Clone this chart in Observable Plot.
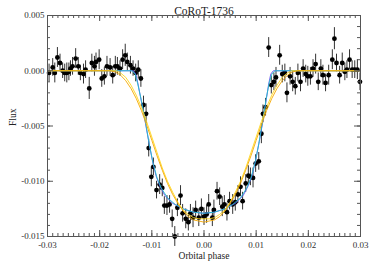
<!DOCTYPE html>
<html>
<head>
<meta charset="utf-8">
<script src="https://cdn.jsdelivr.net/npm/d3@7"></script>
<script src="https://cdn.jsdelivr.net/npm/@observablehq/plot@0.6"></script>
<style>
  html, body { margin: 0; padding: 0; background: #fff; }
</style>
</head>
<body>
<div id="chart"></div>
<script>
const title = "CoRoT-1736";
const xLabel = "Orbital phase";
const yLabel = "Flux";

const xMajorTicks = [-0.03, -0.02, -0.01, 0.00, 0.01, 0.02, 0.03];
const yMajorTicks = [-0.015, -0.010, -0.005, 0.000, 0.005];

const phase = [
  -0.0297, -0.0290, -0.0286, -0.0281, -0.0276, -0.0271, -0.0267, -0.0263, -0.0259, -0.0256,
  -0.0252, -0.0246, -0.0241, -0.0237, -0.0231, -0.0227, -0.0220, -0.0215, -0.0210, -0.0207,
  -0.0201, -0.0196, -0.0191, -0.0186, -0.0180, -0.0175, -0.0170, -0.0166, -0.0161, -0.0156,
  -0.0151, -0.0147, -0.0141, -0.0136, -0.0131, -0.0126, -0.0121, -0.0116, -0.0111, -0.0106,
  -0.0101, -0.0097, -0.0091, -0.0085, -0.0080, -0.0076, -0.0071, -0.0066, -0.0061, -0.0056,
  -0.0051, -0.0045, -0.0041, -0.0035, -0.0030, -0.0026, -0.0021, -0.0016, -0.0010, -0.0005,
   0.0000,  0.0005,  0.0009,  0.0016,  0.0019,  0.0025,  0.0030,  0.0035,  0.0039,  0.0044,
   0.0049,  0.0055,  0.0060,  0.0065,  0.0070,  0.0074,  0.0080,  0.0085,  0.0089,  0.0094,
   0.0099,  0.0105,  0.0110,  0.0113,  0.0118,  0.0124,  0.0129,  0.0134,  0.0138,  0.0145,
   0.0150,  0.0155,  0.0159,  0.0165,  0.0170,  0.0175,  0.0180,  0.0185,  0.0190,  0.0195,
   0.0199,  0.0204,  0.0209,  0.0214,  0.0219,  0.0224,  0.0228,  0.0233,  0.0239,  0.0246,
   0.0250,  0.0254,  0.0260,  0.0265,  0.0270,  0.0274,  0.0279,  0.0284,  0.0289,  0.0294,
   0.0299
];
const flux = [
  -0.0002,  0.0003, -0.0002,  0.0012,  0.0007,  0.0000, -0.0002, -0.0002, -0.0001,  0.0002,
   0.0004,  0.0011,  0.0004, -0.0002, -0.0003,  0.0001, -0.0016,  0.0007,  0.0004,  0.0008,
   0.0010, -0.0007, -0.0005,  0.0004,  0.0003, -0.0004,  0.0004,  0.0004,  0.0002,  0.0010,
   0.0014,  0.0008,  0.0005,  0.0002, -0.0002,  0.0001, -0.0007, -0.0031, -0.0039, -0.0070,
  -0.0096, -0.0087, -0.0108, -0.0103, -0.0106, -0.0122, -0.0122, -0.0121, -0.0134, -0.0150,
  -0.0124, -0.0113, -0.0129, -0.0134, -0.0137, -0.0129, -0.0133, -0.0126, -0.0133, -0.0125,
  -0.0132, -0.0130, -0.0121, -0.0133, -0.0126, -0.0109, -0.0114, -0.0123, -0.0121, -0.0128,
  -0.0118, -0.0121, -0.0119, -0.0112, -0.0105, -0.0118, -0.0102, -0.0095, -0.0096, -0.0097,
  -0.0084, -0.0082, -0.0057, -0.0039, -0.0033,  0.0021, -0.0013, -0.0010, -0.0006,  0.0014,
  -0.0003, -0.0002, -0.0020, -0.0005, -0.0010, -0.0014, -0.0002, -0.0010,  0.0002, -0.0003,
  -0.0005, -0.0005,  0.0002,  0.0006, -0.0010,  0.0002, -0.0004, -0.0011, -0.0004,  0.0010,
   0.0029,  0.0007, -0.0004,  0.0007, -0.0001,  0.0001,  0.0010,  0.0001,  0.0001,  0.0001,
  -0.0010
];
const fluxErr = [
  0.0008, 0.0008, 0.0009, 0.0009, 0.0008, 0.0007, 0.0008, 0.0009, 0.0008, 0.0007,
  0.0008, 0.0009, 0.0008, 0.0007, 0.0009, 0.0008, 0.0010, 0.0008, 0.0009, 0.0008,
  0.0009, 0.0008, 0.0008, 0.0009, 0.0008, 0.0008, 0.0009, 0.0008, 0.0007, 0.0009,
  0.0010, 0.0008, 0.0008, 0.0007, 0.0008, 0.0008, 0.0008, 0.0008, 0.0009, 0.0008,
  0.0009, 0.0008, 0.0008, 0.0009, 0.0008, 0.0008, 0.0009, 0.0008, 0.0008, 0.0009,
  0.0008, 0.0009, 0.0008, 0.0009, 0.0008, 0.0008, 0.0009, 0.0008, 0.0008, 0.0009,
  0.0008, 0.0008, 0.0009, 0.0008, 0.0009, 0.0008, 0.0008, 0.0009, 0.0008, 0.0008,
  0.0008, 0.0009, 0.0008, 0.0008, 0.0009, 0.0008, 0.0008, 0.0009, 0.0008, 0.0009,
  0.0008, 0.0008, 0.0009, 0.0008, 0.0008, 0.0009, 0.0008, 0.0008, 0.0009, 0.0009,
  0.0008, 0.0008, 0.0009, 0.0008, 0.0009, 0.0008, 0.0008, 0.0009, 0.0008, 0.0008,
  0.0009, 0.0008, 0.0008, 0.0009, 0.0008, 0.0008, 0.0009, 0.0008, 0.0009, 0.0009,
  0.0010, 0.0008, 0.0008, 0.0009, 0.0008, 0.0008, 0.0009, 0.0008, 0.0008, 0.0009,
  0.0008
];

// Model curves
const blueX = [-0.03, -0.0135, -0.0130, -0.0126, -0.0120, -0.0112, -0.0106, -0.0099, -0.0092, -0.0085, -0.0075, -0.0060, -0.0040, -0.0020, 0.0000,
               0.0020, 0.0040, 0.0060, 0.0075, 0.0085, 0.0092, 0.0099, 0.0106, 0.0112, 0.0120, 0.0124, 0.0128, 0.0133, 0.03];
const blueY = [0, 0, -0.0004, -0.0013, -0.0028, -0.0048, -0.0064, -0.0081, -0.0095, -0.0104, -0.0113, -0.0120, -0.0125, -0.0128, -0.0129,
               -0.0128, -0.0125, -0.0120, -0.0113, -0.0104, -0.0095, -0.0081, -0.0064, -0.0048, -0.0024, -0.0012, -0.0003, 0, 0];

const cyanX = [-0.03, -0.0138, -0.0132, -0.0127, -0.0120, -0.0112, -0.0105, -0.0098, -0.0090, -0.0082, -0.0070, -0.0055, -0.0040, -0.0020, 0.0000,
               0.0020, 0.0040, 0.0055, 0.0070, 0.0082, 0.0090, 0.0098, 0.0105, 0.0112, 0.0119, 0.0125, 0.0130, 0.0136, 0.03];
const cyanY = [0, 0, -0.0003, -0.0012, -0.0027, -0.0047, -0.0066, -0.0083, -0.0097, -0.0106, -0.0115, -0.0121, -0.0125, -0.0128, -0.0129,
               -0.0128, -0.0125, -0.0121, -0.0115, -0.0106, -0.0097, -0.0083, -0.0066, -0.0047, -0.0026, -0.0011, -0.0003, 0, 0];

const orangeX = [-0.03, -0.0180, -0.0170, -0.0160, -0.0150, -0.0140, -0.0130, -0.0120, -0.0110, -0.0100, -0.0090, -0.0080, -0.0070, -0.0060, -0.0050, -0.0040, -0.0030, -0.0020, -0.0010, 0.0000,
                 0.0010, 0.0020, 0.0030, 0.0040, 0.0050, 0.0060, 0.0070, 0.0080, 0.0090, 0.0100, 0.0110, 0.0120, 0.0130, 0.0140, 0.0150, 0.0160, 0.0170, 0.0180, 0.03];
const orangeY = [0, 0, -0.0001, -0.0004, -0.0009, -0.0016, -0.0025, -0.0036, -0.0049, -0.0063, -0.0077, -0.0090, -0.0102, -0.0112, -0.0120, -0.0127, -0.0132, -0.0135, -0.0136, -0.0137,
                 -0.0136, -0.0135, -0.0132, -0.0127, -0.0120, -0.0112, -0.0102, -0.0090, -0.0077, -0.0063, -0.0049, -0.0036, -0.0025, -0.0016, -0.0009, -0.0004, -0.0001, 0, 0];

const yellowX = [-0.03, -0.0168, -0.0160, -0.0150, -0.0140, -0.0130, -0.0120, -0.0110, -0.0100, -0.0090, -0.0080, -0.0070, -0.0060, -0.0050, -0.0040, -0.0030, -0.0020, -0.0010, 0.0000,
                 0.0010, 0.0020, 0.0030, 0.0040, 0.0050, 0.0060, 0.0070, 0.0080, 0.0090, 0.0100, 0.0110, 0.0120, 0.0130, 0.0140, 0.0150, 0.0160, 0.0168, 0.03];
const yellowY = [0, 0, -0.0002, -0.0006, -0.0013, -0.0022, -0.0033, -0.0046, -0.0060, -0.0074, -0.0088, -0.0100, -0.0110, -0.0119, -0.0126, -0.0130, -0.0133, -0.0134, -0.0134,
                 -0.0134, -0.0133, -0.0130, -0.0126, -0.0119, -0.0110, -0.0100, -0.0088, -0.0074, -0.0060, -0.0046, -0.0033, -0.0022, -0.0013, -0.0006, -0.0002, 0, 0];

const points = phase.map((p, i) => ({x: p, y: flux[i], e: fluxErr[i]}));
const toLine = (xs, ys) => xs.map((x, i) => ({x, y: ys[i]}));

const W = 374, H = 267;
const mT = 15, mB = 31, mL = 47, mR = 14;
const frameH = H - mT - mB;
const frameW = W - mL - mR;
const axisColor = "#555";
const xMinor = d3.range(-30, 31).map(i => i / 1000);
const yMinor = d3.range(-15, 6).map(i => i / 1000);

const chart = Plot.plot({
  width: W, height: H,
  marginTop: mT, marginBottom: mB, marginLeft: mL, marginRight: mR,
  style: {fontFamily: "'Liberation Serif', serif", fontSize: "9px", color: "#333", background: "#fff"},
  x: {domain: [-0.03, 0.03]},
  y: {domain: [-0.015, 0.005]},
  marks: [
    // error bars + points
    Plot.ruleX(points, {x: "x", y1: d => d.y - d.e, y2: d => d.y + d.e, stroke: "#333", strokeWidth: 1}),
    Plot.dot(points, {x: "x", y: "y", r: 2.4, fill: "#000", stroke: "none"}),
    // model curves
    Plot.line(toLine(blueX, blueY), {x: "x", y: "y", stroke: "#6a4cf0", strokeWidth: 0.9}),
    Plot.line(toLine(cyanX, cyanY), {x: "x", y: "y", stroke: "#22bfc8", strokeWidth: 0.9}),
    Plot.line(toLine(yellowX, yellowY), {x: "x", y: "y", stroke: "#ffd81a", strokeWidth: 0.9}),
    Plot.line(toLine(orangeX, orangeY), {x: "x", y: "y", stroke: "#f6a800", strokeWidth: 0.9}),
    // inward ticks, all four sides
    Plot.tickX(xMinor, {x: d => d, insetTop: frameH - 3, stroke: axisColor}),
    Plot.tickX(xMinor, {x: d => d, insetBottom: frameH - 3, stroke: axisColor}),
    Plot.tickX(xMajorTicks, {x: d => d, insetTop: frameH - 6, stroke: axisColor}),
    Plot.tickX(xMajorTicks, {x: d => d, insetBottom: frameH - 6, stroke: axisColor}),
    Plot.tickY(yMinor, {y: d => d, insetRight: frameW - 3, stroke: axisColor}),
    Plot.tickY(yMinor, {y: d => d, insetLeft: frameW - 3, stroke: axisColor}),
    Plot.tickY(yMajorTicks, {y: d => d, insetRight: frameW - 6, stroke: axisColor}),
    Plot.tickY(yMajorTicks, {y: d => d, insetLeft: frameW - 6, stroke: axisColor}),
    Plot.frame({stroke: axisColor}),
    // tick labels
    Plot.axisX(xMajorTicks, {tickSize: 0, tickPadding: 5, tickFormat: d => d.toFixed(2), label: null, fill: "#333"}),
    Plot.axisY(yMajorTicks, {tickSize: 0, tickPadding: 3, tickFormat: d => d.toFixed(3), label: null, fill: "#333"}),
    // titles
    Plot.text([title], {frameAnchor: "top", dy: -9, fontSize: 11.5, fill: "#222"}),
    Plot.text([xLabel], {frameAnchor: "bottom", dy: 22, fontSize: 9.5, fill: "#222"}),
    Plot.text([yLabel], {frameAnchor: "left", dx: -35, rotate: -90, fontSize: 9.5, fill: "#222"})
  ]
});
document.getElementById("chart").appendChild(chart);
</script>
</body>
</html>
